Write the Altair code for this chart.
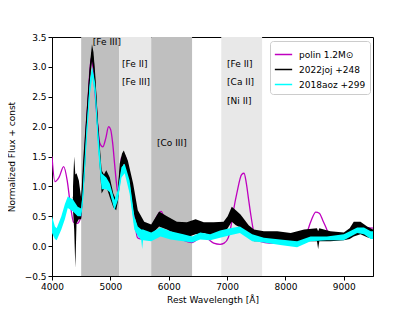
import altair as alt
import pandas as pd

FONT = "DejaVu Sans"

# ---- model: polin 1.2 Msun ----
polin_wl = [4000, 4050, 4120, 4200, 4260, 4310, 4370, 4430, 4490, 4535, 4580, 4620, 4650, 4675,
            4705, 4735, 4780, 4820, 4870, 4920, 4970, 5005, 5040, 5075, 5105, 5130, 5160, 5190,
            5245, 5290, 5330, 5370, 5410, 5465, 5520, 5600, 5680, 5750, 5810, 5870, 5930, 6000,
            6070, 6140, 6250, 6400, 6500, 6600, 6700, 6770, 6880, 6950, 7020, 7070, 7110, 7170,
            7250, 7290, 7330, 7370, 7410, 7450, 7530, 7650, 7800, 8000, 8200, 8330, 8385, 8450,
            8520, 8580, 8640, 8700, 8750, 8800, 8900, 9000, 9100, 9200, 9285, 9400, 9500]
polin_flux = [1.5, 1.08, 1.15, 1.33, 1.1, 0.73, 0.4, 0.38, 0.48, 1.1, 1.9, 2.5, 2.95, 3.15,
              2.95, 2.6, 2.05, 1.72, 1.66, 1.8, 2.0, 1.95, 1.72, 1.35, 1.05, 0.88, 1.1, 1.48,
              1.52, 1.38, 1.15, 0.85, 0.5, 0.14, 0.12, 0.15, 0.25, 0.4, 0.52, 0.58, 0.45, 0.28,
              0.2, 0.17, 0.1, 0.06, 0.12, 0.19, 0.1, 0.05, 0.03, 0.05, 0.14, 0.35, 0.6, 0.9,
              1.2, 1.22, 1.05, 0.77, 0.5, 0.27, 0.1, 0.06, 0.05, 0.05, 0.05, 0.06, 0.27, 0.45,
              0.57, 0.55, 0.43, 0.3, 0.18, 0.13, 0.12, 0.14, 0.18, 0.24, 0.3, 0.31, 0.3]

# ---- 2022joj +248 (noise envelope: low / high) ----
joj_wl = [4360, 4380, 4400, 4420, 4460, 4500, 4530, 4560, 4590, 4650, 4685, 4710, 4740, 4790,
          4850, 4890, 4930, 4990, 5050, 5100, 5130, 5160, 5200, 5230, 5300, 5390, 5470, 5580,
          5700, 5835, 5970, 6140, 6310, 6460, 6600, 6770, 6940, 7010, 7080, 7150, 7230, 7370,
          7460, 7630, 7860, 8090, 8320, 8540, 8560, 8580, 8770, 9000, 9100, 9170, 9285, 9400, 9500]
joj_lo = [0.6, 0.28, -0.36, 0.38, 0.45, 0.45, 0.82, 1.2, 1.83, 2.78, 3.1, 2.95, 2.5, 1.72,
          0.88, 0.95, 1.0, 0.82, 0.65, 0.6, 0.75, 1.05, 1.3, 1.38, 1.15, 0.6, 0.27, 0.22,
          0.19, 0.33, 0.28, 0.2, 0.15, 0.2, 0.22, 0.16, 0.2, 0.3, 0.41, 0.35, 0.31, 0.15,
          0.08, 0.08, 0.05, 0.02, 0.08, 0.08, -0.05, 0.08, 0.08, 0.1, 0.12, 0.16, 0.2, 0.15, 0.12]
joj_hi = [1.0, 1.5, 1.2, 1.22, 1.1, 0.8, 1.38, 1.8, 2.22, 3.05, 3.38, 3.25, 2.88, 2.05,
          1.27, 1.2, 1.27, 1.15, 0.88, 0.77, 0.95, 1.38, 1.55, 1.6, 1.43, 1.05, 0.6, 0.41,
          0.36, 0.58, 0.5, 0.41, 0.4, 0.45, 0.4, 0.4, 0.41, 0.5, 0.66, 0.6, 0.53, 0.35,
          0.28, 0.25, 0.25, 0.22, 0.28, 0.3, 0.25, 0.3, 0.25, 0.23, 0.3, 0.41, 0.41, 0.33, 0.28]

# ---- 2018aoz +299 (noise envelope: low / high) ----
aoz_wl = [4000, 4050, 4080, 4160, 4220, 4270, 4360, 4440, 4500, 4530, 4590, 4650, 4690, 4740,
          4790, 4850, 4930, 4990, 5070, 5130, 5190, 5245, 5330, 5410, 5470, 5530, 5545, 5560,
          5700, 5860, 6030, 6250, 6400, 6540, 6710, 6880, 7050, 7220, 7430, 7630, 7910, 8200,
          8430, 8710, 9000, 9230, 9345, 9460, 9500]
aoz_lo = [0.22, 0.12, 0.1, 0.28, 0.45, 0.64, 0.58, 0.5, 0.5, 0.73, 1.72, 2.55, 2.83, 2.5,
          1.6, 0.95, 0.95, 0.9, 0.6, 0.77, 1.15, 1.22, 0.88, 0.28, 0.17, 0.1, -0.05, 0.1,
          0.08, 0.16, 0.11, 0.08, 0.06, 0.11, 0.1, 0.14, 0.18, 0.22, 0.08, 0.06, 0.02, -0.02,
          0.08, 0.1, 0.1, 0.22, 0.2, 0.12, 0.12]
aoz_hi = [0.5, 0.33, 0.3, 0.5, 0.7, 0.83, 0.78, 0.66, 0.63, 0.95, 1.94, 2.77, 3.0, 2.72,
          1.94, 1.22, 1.15, 1.05, 0.77, 0.95, 1.32, 1.38, 1.1, 0.5, 0.33, 0.28, 0.28, 0.28,
          0.23, 0.31, 0.25, 0.2, 0.16, 0.23, 0.2, 0.26, 0.3, 0.33, 0.2, 0.14, 0.11, 0.08,
          0.16, 0.16, 0.2, 0.31, 0.31, 0.25, 0.25]

# ---- shaded line regions ----
band_start = [4500, 5150, 5700, 6900]
band_end = [5150, 5700, 6400, 7600]
band_color = ["#bfbfbf", "#e8e8e8", "#bfbfbf", "#e8e8e8"]

# ---- annotations ----
ann_text = ["[Fe III]", "[Fe II]", "[Fe III]", "[Co III]", "[Fe II]", "[Ca II]", "[Ni II]"]
ann_x = [4700, 5200, 5200, 5800, 7000, 7000, 7000]
ann_y = [3.42, 3.05, 2.74, 1.73, 3.05, 2.74, 2.43]

series_names = ["polin 1.2M\u2299", "2022joj +248", "2018aoz +299"]
series_colors = ["#bf00bf", "#000000", "#00ffff"]

W, H = 321, 239
xsc = alt.Scale(domain=[4000, 9500], nice=False, zero=False, padding=0)
ysc = alt.Scale(domain=[-0.5, 3.5], nice=False, zero=False, padding=0)
csc = alt.Scale(domain=series_names, range=series_colors)

xax = alt.Axis(values=[4000, 5000, 6000, 7000, 8000, 9000], format="d",
               title="Rest Wavelength [\u00c5]", titlePadding=4, labelOverlap=False,
               labelFlush=False)
yax = alt.Axis(values=[-0.5, 0, 0.5, 1.0, 1.5, 2.0, 2.5, 3.0, 3.5], format=".1f",
               title="Normalized Flux + const", titlePadding=8, labelOverlap=False,
               labelFlush=False)

bands = pd.DataFrame({"x": band_start, "x2": band_end, "c": band_color})
band_layer = alt.Chart(bands).mark_rect().encode(
    x=alt.X("x:Q", scale=xsc, axis=xax),
    x2="x2:Q",
    y=alt.value(0), y2=alt.value(H),
    fill=alt.Fill("c:N", scale=None),
)

polin_df = pd.DataFrame({"wl": polin_wl, "flux": polin_flux, "series": series_names[0]})
joj_df = pd.DataFrame({"wl": joj_wl, "lo": joj_lo, "hi": joj_hi, "series": series_names[1]})
joj_df["flux"] = (joj_df["lo"] + joj_df["hi"]) / 2
aoz_df = pd.DataFrame({"wl": aoz_wl, "lo": aoz_lo, "hi": aoz_hi, "series": series_names[2]})
aoz_df["flux"] = (aoz_df["lo"] + aoz_df["hi"]) / 2

legend = alt.Legend(title=None, orient="none", legendX=218, legendY=4,
                    fillColor="white", strokeColor="#cccccc", cornerRadius=3, padding=4,
                    labelFont=FONT, labelFontSize=9, labelColor="black",
                    symbolType="stroke", symbolSize=300, symbolStrokeWidth=1.5,
                    rowPadding=-4, labelOffset=6, labelLimit=200)

def line_layer(df, sw, interp="linear"):
    return alt.Chart(df).mark_line(strokeWidth=sw, clip=True, interpolate=interp).encode(
        x=alt.X("wl:Q", scale=xsc, axis=xax),
        y=alt.Y("flux:Q", scale=ysc, axis=yax),
        color=alt.Color("series:N", scale=csc, legend=legend),
    )

def band_area(df, col):
    return alt.Chart(df).mark_area(color=col, clip=True, opacity=1).encode(
        x=alt.X("wl:Q", scale=xsc, axis=xax),
        y=alt.Y("lo:Q", scale=ysc, axis=yax),
        y2="hi:Q",
    )

polin_layer = line_layer(polin_df, 1.3, "monotone")
joj_area = band_area(joj_df, "#000000")
joj_line = line_layer(joj_df, 0.8)
aoz_area = band_area(aoz_df, "#00ffff")
aoz_line = line_layer(aoz_df, 0.8)

ann = pd.DataFrame({"t": ann_text, "x": ann_x, "y": ann_y})
text_layer = alt.Chart(ann).mark_text(align="left", baseline="middle", font=FONT,
                                      fontSize=9, color="black").encode(
    x=alt.X("x:Q", scale=xsc, axis=xax), y=alt.Y("y:Q", scale=ysc, axis=yax), text="t:N")

chart = alt.layer(band_layer, polin_layer, joj_area, joj_line, aoz_area, aoz_line, text_layer).properties(
    width=W, height=H,
    background="white",
    autosize=alt.AutoSizeParams(type="none"),
    padding={"left": 44, "top": 29, "right": 34, "bottom": 35},
).configure_view(stroke="black", strokeWidth=1).configure_axis(
    grid=False, domainColor="black", tickColor="black", tickSize=4,
    labelFont=FONT, labelFontSize=9, labelColor="black", labelPadding=2,
    titleFont=FONT, titleFontSize=9, titleFontWeight="normal", titleColor="black",
)

chart.save("out.html", embed_options={"renderer": "svg", "actions": False})
